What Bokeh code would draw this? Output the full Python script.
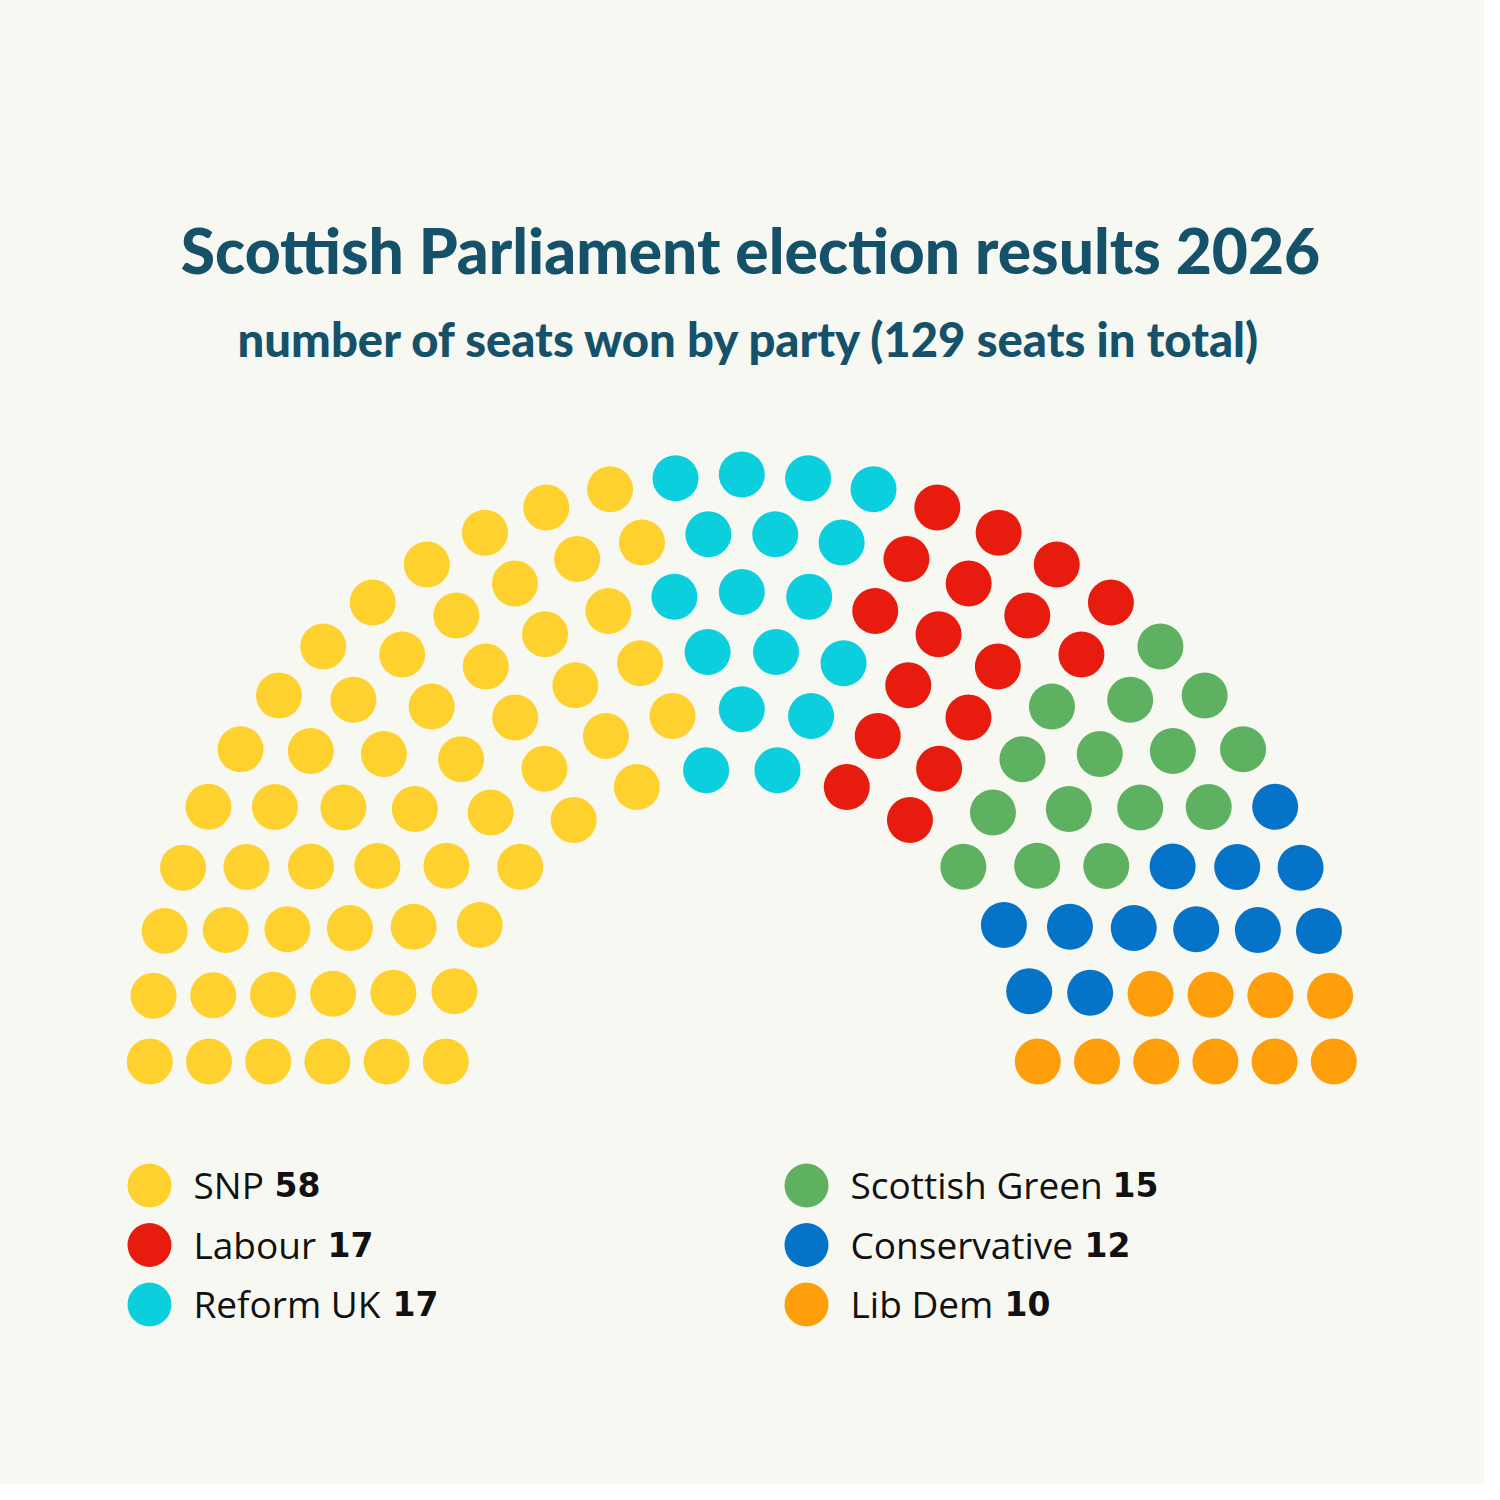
import math
from bokeh.plotting import figure
from bokeh.models import Range1d
from bokeh.core.properties import value
from bokeh.embed import file_html
from bokeh.resources import INLINE

# ---------------- data ----------------
title_text = "Scottish Parliament election results 2026"
subtitle_text = "number of seats won by party (129 seats in total)"

# hemicycle order (left to right)
parties = ["SNP", "Reform UK", "Labour", "Scottish Green", "Conservative", "Lib Dem"]
seats = [58, 17, 17, 15, 12, 10]
party_colors = ["#FED12F", "#0BCFDD", "#E81B0F", "#5EB160", "#0573C8", "#FE9E0B"]

# legend order
legend_parties = ["SNP", "Labour", "Reform UK", "Scottish Green", "Conservative", "Lib Dem"]
legend_seats = [58, 17, 17, 15, 12, 10]

# hemicycle rows (inner to outer)
row_counts = [14, 17, 20, 23, 26, 29]
row_radii = [5, 6, 7, 8, 9, 10]

# ---------------- styling / layout ----------------
BG = "#F8F8F3"
TITLE_COLOR = "#16516A"
TEXT_COLOR = "#111111"
W = H = 1484
PXX = 59.2      # px per unit horizontally
PXY = 58.70     # px per unit vertically
CX, CY = 741.3, 1061.0   # hemicycle centre in picture pixels
XMIN = -CX / PXX
YMAX = CY / PXY


def fx(X):
    return XMIN + X / PXX


def fy(Y):
    return YMAX - Y / PXY


p = figure(width=W, height=H, output_backend="svg", toolbar_location=None,
           x_range=Range1d(XMIN, XMIN + W / PXX), y_range=Range1d(YMAX - H / PXY, YMAX),
           x_axis_type=None, y_axis_type=None, min_border=0,
           background_fill_color=BG, border_fill_color=BG, outline_line_color=None)
p.grid.visible = False

# ---- seats: sort every seat by angle, assign parties in order ----
seat_list = []
for r, n in zip(row_radii, row_counts):
    for i in range(n):
        a = math.pi * (1 - i / (n - 1))
        seat_list.append((a, r))
seat_list.sort(key=lambda s: (-round(s[0], 9), s[1]))

sx, sy, sc = [], [], []
k = 0
for party, cnt, col in zip(parties, seats, party_colors):
    for _ in range(cnt):
        a, r = seat_list[k]
        sx.append(r * math.cos(a))
        sy.append(r * math.sin(a))
        sc.append(col)
        k += 1

p.scatter(x=sx, y=sy, size=46, marker="circle", fill_color=sc, line_color=None)

# ---- title ----
TS, SS = 62.3, 47.2
p.text(x=[fx(750)], y=[fy(274 - 0.39 * TS)], text=[title_text], text_font=value("Lato Black"),
       text_font_style="normal", text_font_size=f"{TS}px", text_color=TITLE_COLOR,
       text_align="center", text_baseline="middle")
p.text(x=[fx(750)], y=[fy(356 - 0.39 * SS)], text=[subtitle_text], text_font=value("Lato Black"),
       text_font_style="normal", text_font_size=f"{SS}px", text_color=TITLE_COLOR,
       text_align="center", text_baseline="middle")

# ---- legend ----
col_x = [149, 149, 149, 806, 806, 806]
row_y = [1185, 1244.5, 1304, 1185, 1244.5, 1304]
text_x = [193, 193, 193, 850, 850, 850]
num_x = [274, 327, 392, 1112, 1084, 1004]
cmap = dict(zip(parties, party_colors))

p.scatter(x=[fx(v) for v in col_x], y=[fy(v) for v in row_y], size=44, marker="circle",
          fill_color=[cmap[n] for n in legend_parties], line_color=None)
p.text(x=[fx(v) for v in text_x], y=[fy(v - 1) for v in row_y], text=legend_parties,
       text_font=value("Open Sans"), text_font_size="37px", text_color=TEXT_COLOR,
       text_align="left", text_baseline="middle")
p.text(x=[fx(v) for v in num_x], y=[fy(v - 1) for v in row_y], text=[str(s) for s in legend_seats],
       text_font=value("DejaVu Sans"), text_font_style="bold", text_font_size="33px",
       text_color=TEXT_COLOR, text_align="left", text_baseline="middle")

open("out.html", "w").write(file_html(p, INLINE))
